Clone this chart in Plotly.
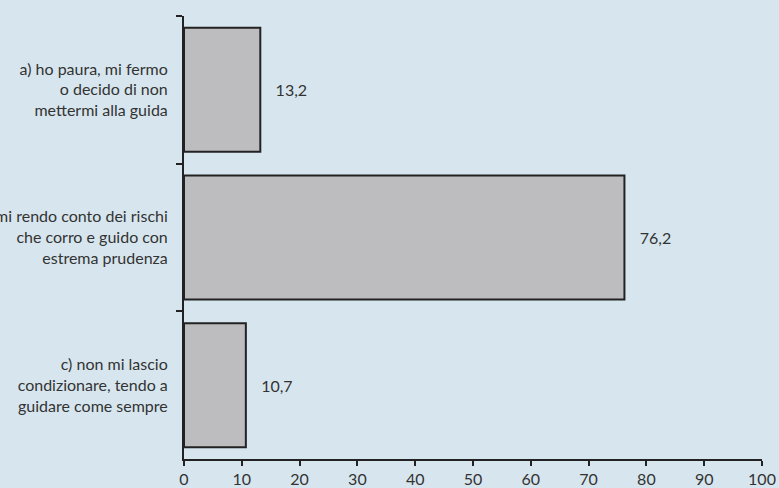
import plotly.graph_objects as go

categories = [
    "a) ho paura, mi fermo<br>o decido di non<br>mettermi alla guida",
    "b) mi rendo conto dei rischi<br>che corro e guido con<br>estrema prudenza",
    "c) non mi lascio<br>condizionare, tendo a<br>guidare come sempre",
]
values = [13.2, 76.2, 10.7]
x_ticks = [0, 10, 20, 30, 40, 50, 60, 70, 80, 90, 100]

BG = "#d7e6ee"
TXT = "#333333"
FONT = "Lato, 'Noto Sans', sans-serif"

fig = go.Figure(
    go.Bar(
        x=values,
        y=categories,
        orientation="h",
        marker=dict(color="#bdbdbf", line=dict(color="#222222", width=2)),
        texttemplate="   %{x:.1f}",
        textposition="outside",
        textfont=dict(color=TXT, size=16, family=FONT),
        cliponaxis=False,
        hoverinfo="skip",
    )
)

fig.update_layout(
    width=779,
    height=488,
    margin=dict(l=184, r=17, t=16, b=29),
    paper_bgcolor=BG,
    plot_bgcolor=BG,
    separators=",.",
    bargap=0.16,
    showlegend=False,
    font=dict(family=FONT, color=TXT, size=16),
)

fig.update_xaxes(
    range=[0, 100],
    tickvals=x_ticks,
    ticks="outside",
    ticklen=5,
    tickwidth=2,
    tickcolor="#222222",
    showline=True,
    linecolor="#222222",
    linewidth=2,
    showgrid=False,
    zeroline=False,
    tickfont=dict(size=16, color=TXT),
    automargin=False,
)

fig.update_yaxes(
    categoryorder="array",
    categoryarray=categories,
    autorange="reversed",
    tickson="boundaries",
    ticks="outside",
    ticklen=6,
    tickwidth=2,
    tickcolor="#222222",
    showline=True,
    linecolor="#222222",
    linewidth=2,
    showgrid=False,
    zeroline=False,
    ticklabelstandoff=11,
    tickfont=dict(size=16, color=TXT),
    automargin=False,
)

fig.write_html(
    "out.html",
    config={"displayModeBar": False, "staticPlot": True},
    post_script="document.body.style.margin='0';document.body.style.padding='0';document.documentElement.style.overflow='hidden';",
)
